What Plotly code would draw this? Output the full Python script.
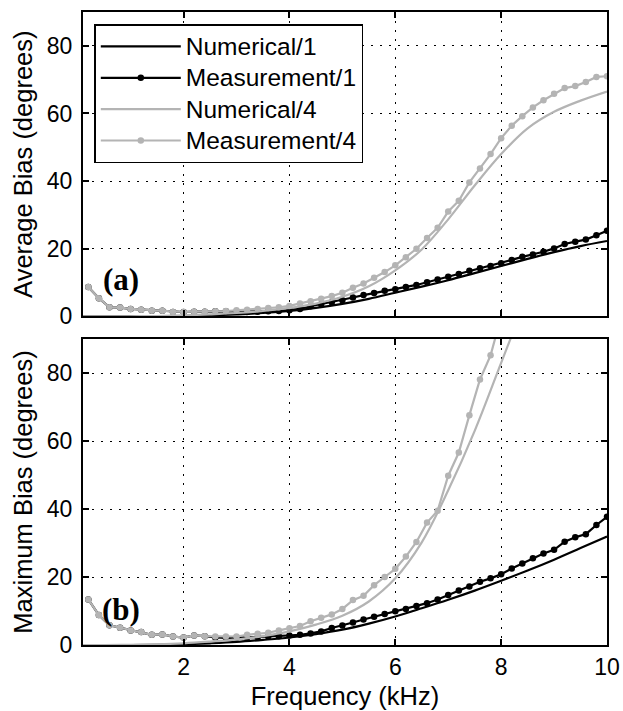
import plotly.graph_objects as go

# ---- data ----
freq_meas = [0.2, 0.4, 0.6, 0.8, 1.0, 1.2, 1.4, 1.6, 1.8, 2.0,
             2.2, 2.4, 2.6, 2.8, 3.0, 3.2, 3.4, 3.6, 3.8, 4.0,
             4.2, 4.4, 4.6, 4.8, 5.0, 5.2, 5.4, 5.6, 5.8, 6.0,
             6.2, 6.4, 6.6, 6.8, 7.0, 7.2, 7.4, 7.6, 7.8, 8.0,
             8.2, 8.4, 8.6, 8.8, 9.0, 9.2, 9.4, 9.6, 9.8, 10.0]
freq_num = [0.1, 0.5, 1.0, 1.5, 2.0, 2.5, 3.0, 3.5, 4.0, 4.5, 5.0,
            5.5, 6.0, 6.5, 7.0, 7.5, 8.0, 8.5, 9.0, 9.5, 10.0]

# (a) Average bias
avg_num1 = [0, 0, 0, 0.05, 0.1, 0.3, 0.6, 1.0, 1.6, 2.5, 3.7,
            5.2, 7.0, 8.8, 10.7, 12.8, 14.9, 17.0, 19.0, 20.8, 22.3]
avg_num4 = [0, 0, 0.05, 0.1, 0.3, 0.6, 1.0, 1.6, 2.5, 3.8, 5.8,
            8.9, 13.6, 19.8, 28.7, 38.7, 48.0, 55.6, 60.5, 63.8, 66.5]
avg_meas1 = [8.7, 5.4, 2.7, 2.6, 2.2, 2.0, 1.7, 1.7, 1.3, 1.3,
             1.4, 1.4, 1.5, 1.5, 1.4, 1.3, 1.4, 1.5, 1.6, 1.8,
             2.2, 3.0, 3.6, 4.2, 4.8, 5.6, 6.3, 6.9, 7.6, 8.0,
             8.7, 9.3, 10.1, 10.9, 11.7, 12.5, 13.5, 14.2, 14.9, 15.7,
             16.7, 17.6, 18.3, 19.1, 20.1, 21.4, 22.1, 22.7, 24.0, 25.3]
avg_meas4 = [8.7, 5.4, 2.7, 2.6, 2.2, 2.0, 1.7, 1.7, 1.3, 1.3,
             1.4, 1.4, 1.5, 1.6, 1.8, 2.0, 2.2, 2.5, 2.7, 3.1,
             3.8, 4.5, 5.2, 6.0, 7.0, 8.5, 9.7, 11.4, 13.1, 15.1,
             17.5, 20.0, 23.2, 26.2, 31.0, 34.2, 39.6, 43.7, 48.0, 52.7,
             56.4, 59.2, 61.8, 63.9, 65.8, 67.5, 68.1, 69.3, 70.8, 71.0]

# (b) Maximum bias
max_num1 = [0, 0, 0, 0.05, 0.2, 0.5, 0.9, 1.5, 2.2, 3.2, 4.5,
            6.3, 8.4, 10.8, 13.3, 16.0, 18.9, 21.9, 25.1, 28.5, 31.9]
max_num4 = [0, 0, 0.05, 0.2, 0.5, 1.0, 1.6, 2.6, 4.0, 6.0, 8.6,
            12.8, 19.6, 30.2, 45.5, 63.0, 83.0, 103.0]
max_meas1 = [13.4, 8.8, 5.8, 5.1, 4.3, 3.8, 3.0, 3.1, 2.5, 2.2,
             2.8, 2.6, 2.2, 2.1, 2.1, 2.2, 2.3, 2.5, 2.6, 2.8,
             3.0, 3.4, 4.0, 5.0, 5.7, 6.6, 7.5, 8.3, 9.1, 9.9,
             10.6, 11.5, 12.3, 13.4, 14.7, 16.0, 17.2, 18.6, 19.6, 20.8,
             22.5, 24.0, 25.5, 26.9, 28.0, 30.4, 31.7, 32.6, 35.3, 37.7]
max_meas4 = [13.4, 8.8, 5.8, 5.1, 4.3, 3.8, 3.0, 3.1, 2.5, 2.2,
             2.8, 2.6, 2.5, 2.5, 2.5, 3.0, 3.3, 3.6, 4.3, 4.9,
             5.6, 7.0, 8.0, 9.0, 10.6, 13.2, 14.5, 17.6, 20.0, 22.4,
             26.0, 30.3, 36.0, 39.5, 49.8, 56.6, 67.6, 78.1, 85.2, 96.0,
             108.0]

series_names = ["Numerical/1", "Measurement/1", "Numerical/4", "Measurement/4"]
x_ticks = [2, 4, 6, 8, 10]
y_ticks = [0, 20, 40, 60, 80]

BLACK = "#000000"
GRAY = "#b4b4b4"
FONT = "Liberation Sans, Arial, sans-serif"
SERIF = "Liberation Serif, Times New Roman, serif"

fig = go.Figure()

def lname(n):
    return "<span style='font-size:24.5px'>" + n + "</span>"

def add_panel(num1, meas1, num4, meas4, xa, ya, show):
    fig.add_trace(go.Scatter(x=freq_num[:len(num1)], y=num1, mode="lines",
                             line=dict(color=BLACK, width=2.2, shape="spline"),
                             name=lname(series_names[0]), showlegend=show, xaxis=xa, yaxis=ya))
    fig.add_trace(go.Scatter(x=freq_meas[:len(meas1)], y=meas1, mode="lines+markers",
                             line=dict(color=BLACK, width=2.2),
                             marker=dict(color=BLACK, size=6.5),
                             name=lname(series_names[1]), showlegend=show, xaxis=xa, yaxis=ya))
    fig.add_trace(go.Scatter(x=freq_num[:len(num4)], y=num4, mode="lines",
                             line=dict(color=GRAY, width=2.2, shape="spline"),
                             name=lname(series_names[2]), showlegend=show, xaxis=xa, yaxis=ya))
    fig.add_trace(go.Scatter(x=freq_meas[:len(meas4)], y=meas4, mode="lines+markers",
                             line=dict(color=GRAY, width=2.2),
                             marker=dict(color=GRAY, size=6.5),
                             name=lname(series_names[3]), showlegend=show, xaxis=xa, yaxis=ya))

add_panel(avg_num1, avg_meas1, avg_num4, avg_meas4, "x", "y", True)
add_panel(max_num1, max_meas1, max_num4, max_meas4, "x2", "y2", False)

W, H = 623, 711
l, r, t, b = 83, 16, 12, 66
pw = W - l - r
ph = H - t - b
top_bottom = (645.3 - 316.7) / ph
bot_top = (645.3 - 339.3) / ph

axis_common = dict(showline=True, linecolor=BLACK, linewidth=2, mirror="ticks",
                   ticks="inside", ticklen=6, tickwidth=1.5, tickcolor=BLACK,
                   showgrid=True, gridcolor=BLACK, gridwidth=1, griddash="2px,7px",
                   zeroline=False, automargin=False,
                   tickfont=dict(family=FONT, size=23, color=BLACK))

fig.update_layout(
    width=W, height=H,
    margin=dict(l=l, r=r, t=t, b=b),
    paper_bgcolor="white", plot_bgcolor="white",
    font=dict(family=FONT, size=23, color=BLACK),
    xaxis=dict(domain=[0, 1], range=[0.1, 10], tickvals=x_ticks, showticklabels=False,
               anchor="y", **axis_common),
    yaxis=dict(domain=[top_bottom, 1], range=[0, 90], tickvals=y_ticks, anchor="x",
               ticklabelstandoff=4,
               title=dict(text="Average Bias (degrees)", font=dict(size=25.5), standoff=7),
               **axis_common),
    xaxis2=dict(domain=[0, 1], range=[0.1, 10], tickvals=x_ticks, anchor="y2",
                title=dict(text="Frequency (kHz)", font=dict(size=25.5), standoff=9),
                **axis_common),
    yaxis2=dict(domain=[0, bot_top], range=[0, 90], tickvals=y_ticks, anchor="x2",
                ticklabelstandoff=4,
                title=dict(text="Maximum Bias (degrees)", font=dict(size=25.5), standoff=7),
                **axis_common),
    legend=dict(x=(94.3 - l) / pw, y=1 - (24.3 - t) / ph,
                xanchor="left", yanchor="top",
                bgcolor="white", bordercolor=BLACK, borderwidth=1.5,
                font=dict(family=FONT, size=21.8, color=BLACK),
                itemwidth=80, tracegroupgap=0),
    annotations=[
        dict(text="<b>(a)</b>", x=0.82, y=10.8, xref="x", yref="y", showarrow=False,
             font=dict(family=SERIF, size=31, color=BLACK)),
        dict(text="<b>(b)</b>", x=0.82, y=10.4, xref="x2", yref="y2", showarrow=False,
             font=dict(family=SERIF, size=31, color=BLACK)),
    ],
)

# remove the default page margin so the 623x711 figure fills the window exactly
fig.write_html("out.html", config={"displayModeBar": False},
               post_script="document.body.style.margin='0';")
